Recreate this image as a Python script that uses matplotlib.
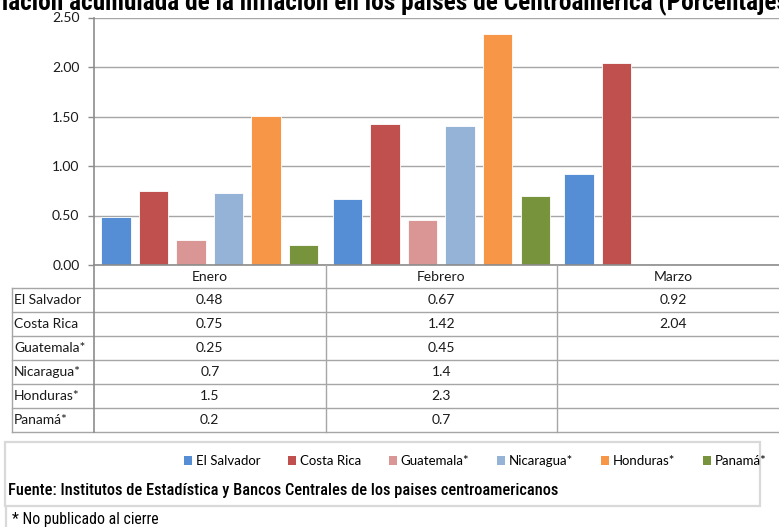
import matplotlib
matplotlib.use('Agg')
import matplotlib.pyplot as plt
from matplotlib import font_manager
from matplotlib.font_manager import FontProperties
from matplotlib.patches import Patch, Rectangle
from matplotlib.lines import Line2D
from matplotlib.transforms import blended_transform_factory
import numpy as np

# ---------------- data ----------------
months = ['Enero', 'Febrero', 'Marzo']
countries = ['El Salvador', 'Costa Rica', 'Guatemala*', 'Nicaragua*', 'Honduras*', 'Panamá*']
el_salvador = [0.48, 0.67, 0.92]
costa_rica = [0.75, 1.42, 2.04]
guatemala = [0.25, 0.45, np.nan]
nicaragua = [0.73, 1.40, np.nan]
honduras = [1.51, 2.33, np.nan]
panama = [0.20, 0.70, np.nan]
# values as printed in the data table
tbl_el_salvador = ['0.48', '0.67', '0.92']
tbl_costa_rica = ['0.75', '1.42', '2.04']
tbl_guatemala = ['0.25', '0.45', '']
tbl_nicaragua = ['0.7', '1.4', '']
tbl_honduras = ['1.5', '2.3', '']
tbl_panama = ['0.2', '0.7', '']
yticks = [0.0, 0.5, 1.0, 1.5, 2.0, 2.5]
ytick_labels = ['0.00', '0.50', '1.00', '1.50', '2.00', '2.50']
colors = ['#558ED5', '#C0504D', '#D99694', '#95B3D7', '#F79646', '#77933C']

title_full = 'Variación acumulada de la inflación en los países de Centroamérica (Porcentajes)'
source_text = 'Fuente: Institutos de Estadística y Bancos Centrales de los paises centroamericanos'
note_text = '* No publicado al cierre'

series = [el_salvador, costa_rica, guatemala, nicaragua, honduras, panama]
tables = [tbl_el_salvador, tbl_costa_rica, tbl_guatemala, tbl_nicaragua, tbl_honduras, tbl_panama]

# ---------------- fonts ----------------
avail = {f.name for f in font_manager.fontManager.ttflist}
REG = 'Lato' if 'Lato' in avail else 'DejaVu Sans'
cond_prop = None
for n in ['Roboto Condensed', 'Liberation Sans Narrow', 'DejaVu Sans Condensed', 'Open Sans Condensed']:
    if n in avail:
        cond_prop = dict(family=n)
        break
if cond_prop is None:
    if any(f.name == 'DejaVu Sans' and f.stretch == 'condensed' for f in font_manager.fontManager.ttflist):
        cond_prop = dict(family='DejaVu Sans', stretch='condensed')
    else:
        cond_prop = dict(family='DejaVu Sans')

W, H = 779, 527
fig = plt.figure(figsize=(W / 100, H / 100), dpi=100)
fig.patch.set_facecolor('white')


def fx(x):
    return x / W


def fy(y):
    return 1 - y / H


TXT = '#1a1a1a'
FS = 10

# ---------------- axes ----------------
left, base, top = 94, 265, 17.5
colw = 231.6
ax = fig.add_axes([fx(left), fy(base), 3 * colw / W, (base - top) / H])
ax.set_xlim(-0.5, 2.5)
ax.set_ylim(0, 2.5)
x = np.arange(len(months))
step, bw = 0.1622, 0.127
for j, (vals, c) in enumerate(zip(series, colors)):
    ax.bar(x + (j - 2.5) * step, vals, width=bw, color=c, edgecolor='white',
           linewidth=0.6, zorder=2)

ax.set_yticks(yticks)
ax.set_yticklabels(ytick_labels, fontfamily=REG, fontsize=FS, color=TXT)
ax.set_xticks([])
ax.yaxis.grid(True, color='#A6A6A6', linewidth=1.0)
ax.set_axisbelow(True)
for s in ['top', 'right']:
    ax.spines[s].set_visible(False)
ax.spines['left'].set_color('#8C8C8C')
ax.spines['left'].set_linewidth(1.2)
ax.spines['bottom'].set_color('#8C8C8C')
ax.spines['bottom'].set_linewidth(1.2)
ax.tick_params(axis='y', length=4.5, width=1, color='#8C8C8C', pad=6)

# ---------------- data table ----------------
tr = blended_transform_factory(ax.transData, fig.transFigure)
row_h = 24.0
hdr_bottom = 288.3
tbl_bottom = hdr_bottom + row_h * len(countries)
line_col = '#A6A6A6'
for k in range(len(countries) + 1):
    yy = hdr_bottom + k * row_h
    fig.add_artist(Line2D([fx(12), fx(W)], [fy(yy), fy(yy)], color=line_col, lw=1.0))
fig.add_artist(Line2D([fx(12), fx(12)], [fy(hdr_bottom), fy(tbl_bottom)], color=line_col, lw=1.0))
fig.add_artist(Line2D([fx(left), fx(left)], [fy(base), fy(tbl_bottom)], color='#8C8C8C', lw=1.2))
for b in [0.5, 1.5, 2.5]:
    fig.add_artist(Line2D([b, b], [fy(base), fy(tbl_bottom)], color=line_col, lw=1.0,
                          transform=tr))
for i, m in enumerate(months):
    fig.text(i, fy((base + hdr_bottom) / 2), m, transform=tr, ha='center', va='center',
             fontfamily=REG, fontsize=FS, color=TXT)
for r, (name, tv) in enumerate(zip(countries, tables)):
    yc = hdr_bottom + (r + 0.5) * row_h
    fig.text(fx(14), fy(yc), name, ha='left', va='center', fontfamily=REG, fontsize=FS,
             color=TXT)
    for i, t in enumerate(tv):
        fig.text(i, fy(yc), t, transform=tr, ha='center', va='center', fontfamily=REG,
                 fontsize=FS, color=TXT)

# ---------------- legend ----------------
handles = [Patch(facecolor=c, edgecolor='none') for c in colors]
fig.legend(handles, countries, loc='center left', bbox_to_anchor=(fx(184), fy(461)),
           ncol=6, frameon=False, handlelength=0.6, handleheight=0.6, handletextpad=0.3,
           columnspacing=2.1, borderaxespad=0, borderpad=0,
           prop=FontProperties(family=REG, size=9.5))
fig.add_artist(Rectangle((fx(5), fy(506)), fx(760) - fx(5), fy(442) - fy(506),
                         transform=fig.transFigure, fill=False, edgecolor='#D9D9D9', lw=1.6))

# ---------------- texts with fitted width ----------------
renderer = fig.canvas.get_renderer()


def text_w(s, prop):
    w, h, d = renderer.get_text_width_height_descent(s, prop, ismath=False)
    return w


tprop = FontProperties(weight='bold', size=10, **cond_prop)
vis = title_full[3:-2]
pre = title_full[:3]
size_t = 10 * 777 / text_w(vis, tprop)
tprop.set_size(size_t)
x0 = 2 - text_w(pre, tprop)
fig.text(fx(x0), fy(10), title_full, ha='left', va='baseline', fontproperties=tprop,
         color='black')

sprop = FontProperties(size=10, weight='medium', **cond_prop)
size_s = 10 * 547 / text_w(source_text, sprop)
sprop.set_size(size_s)
fig.text(fx(8), fy(495), source_text, ha='left', va='baseline', fontproperties=sprop,
         color='black')

nprop = FontProperties(size=10, **cond_prop)
size_n = 10 * 146 / text_w(note_text, nprop)
nprop.set_size(size_n)
fig.text(fx(12), fy(524), note_text, ha='left', va='baseline', fontproperties=nprop,
         color='black')
fig.add_artist(Line2D([fx(6), fx(6)], [fy(507), fy(H)], color='#D9D9D9', lw=1.6))

fig.savefig('out.png', dpi=100, facecolor='white')
